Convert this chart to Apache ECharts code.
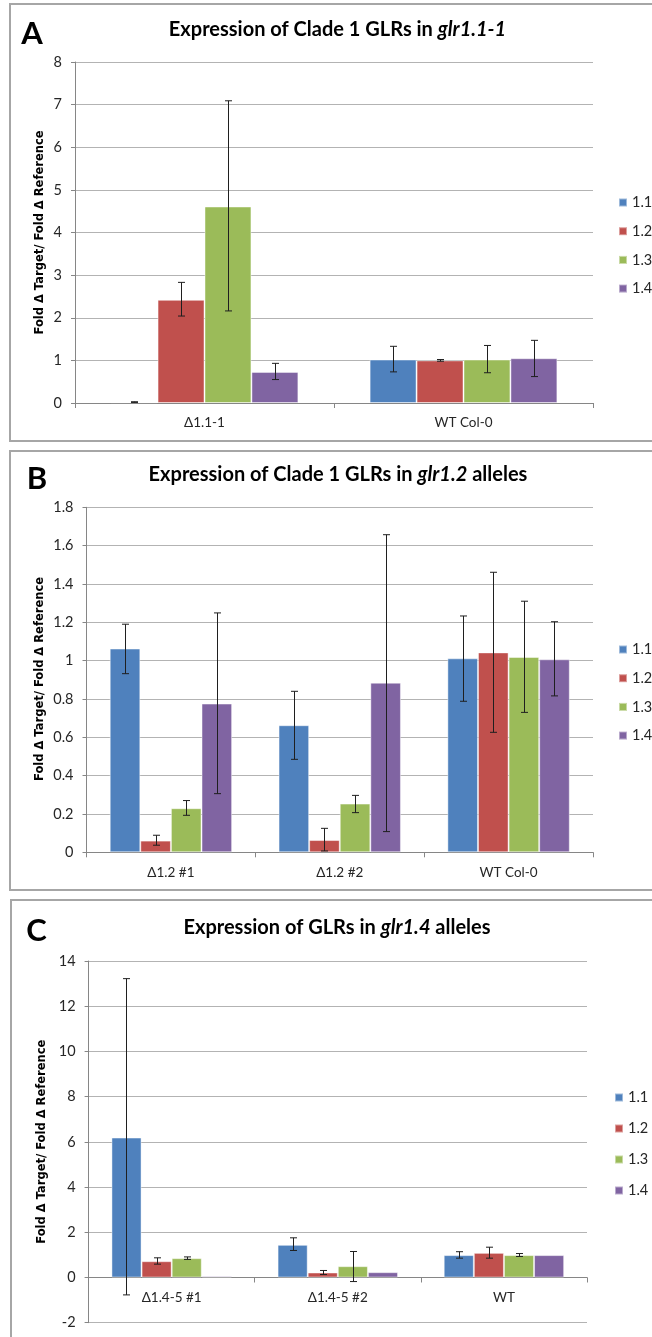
<!DOCTYPE html>
<html><head><meta charset="utf-8">
<script src="https://cdn.jsdelivr.net/npm/echarts@6/dist/echarts.min.js"></script>
<style>
html,body{margin:0;padding:0;background:#fff;width:652px;height:1337px;overflow:hidden;position:relative;}
.box{position:absolute;box-sizing:border-box;border:2px solid #a6a6a6;}
.ch{position:absolute;left:0;width:652px;}
</style></head><body>
<div class="box" style="left:9px;top:3px;width:700px;height:439px"></div>
<div class="box" style="left:9px;top:450px;width:700px;height:441px"></div>
<div class="box" style="left:10px;top:899px;width:700px;height:500px"></div>
<div id="cA" class="ch" style="top:0;height:445px"></div>
<div id="cB" class="ch" style="top:445px;height:445px"></div>
<div id="cC" class="ch" style="top:890px;height:447px"></div>
<script>
// ---------- DATA ----------
const seriesNames = ['1.1', '1.2', '1.3', '1.4'];
const seriesColors = ['#4F81BD', '#C0504D', '#9BBB59', '#8064A2'];

// Panel A
const catsA = ['Δ1.1-1', 'WT Col-0'];
const meansA = [[0.02, 1.02], [2.42, 1.00], [4.61, 1.02], [0.73, 1.05]];
const lowA   = [[0.01, 0.73], [2.04, 0.98], [2.16, 0.71], [0.55, 0.62]];
const highA  = [[0.03, 1.33], [2.83, 1.02], [7.09, 1.35], [0.93, 1.47]];
const ticksA = {min: 0, max: 8, interval: 1};

// Panel B
const catsB = ['Δ1.2 #1', 'Δ1.2 #2', 'WT Col-0'];
const meansB = [[1.063, 0.663, 1.012], [0.061, 0.064, 1.043], [0.230, 0.254, 1.019], [0.776, 0.885, 1.007]];
const lowB   = [[0.932, 0.485, 0.788], [0.037, 0.007, 0.626], [0.193, 0.207, 0.730], [0.306, 0.108, 0.816]];
const highB  = [[1.190, 0.840, 1.233], [0.089, 0.125, 1.461], [0.270, 0.297, 1.310], [1.249, 1.657, 1.203]];
const ticksB = {min: 0, max: 1.8, interval: 0.2};

// Panel C
const catsC = ['Δ1.4-5 #1', 'Δ1.4-5 #2', 'WT'];
const meansC = [[6.19, 1.445, 0.99], [0.72, 0.22, 1.09], [0.855, 0.50, 0.99], [0.06, 0.235, 0.99]];
const lowC   = [[-0.77, 1.195, 0.855], [0.59, 0.13, 0.855], [0.80, -0.18, 0.93], [null, null, null]];
const highC  = [[13.22, 1.755, 1.14], [0.87, 0.31, 1.34], [0.91, 1.15, 1.06], [null, null, null]];
const ticksC = {min: -2, max: 14, interval: 2};

const yTitle = 'Fold Δ Target/ Fold Δ Reference';

// ---------- DRAWING ----------
const GAP = 0.275;
const FONT = 'Lato, "Open Sans", sans-serif';

function errRenderer(si) {
  return function (params, api) {
    const lo = api.value(1), hi = api.value(2);
    if (lo == null || hi == null || isNaN(lo) || isNaN(hi)) return null;
    const ci = api.value(0);
    const cw = api.size([1, 0])[0];
    const group = cw * (1 - GAP);
    const bw = group / 4;
    const cx = Math.round(api.coord([ci, 0])[0] - group / 2 + bw * (si + 0.5)) + 0.5;
    const yLo = api.coord([ci, lo])[1], yHi = api.coord([ci, hi])[1];
    const cap = 3.5;
    const st = {stroke: '#1f1f1f', lineWidth: 1};
    return {type: 'group', children: [
      {type: 'line', shape: {x1: cx, y1: yLo, x2: cx, y2: yHi}, style: st},
      {type: 'line', shape: {x1: cx - cap, y1: yHi, x2: cx + cap, y2: yHi}, style: st},
      {type: 'line', shape: {x1: cx - cap, y1: yLo, x2: cx + cap, y2: yLo}, style: st}
    ]};
  };
}

function build(el, cfg) {
  const dom = document.getElementById(el);
  const chart = echarts.init(dom, null, {renderer: 'canvas'});
  const H = dom.clientHeight;
  const gridH = H - cfg.grid.top - cfg.grid.bottom;
  const zeroOffset = -gridH * (0 - cfg.ticks.min) / (cfg.ticks.max - cfg.ticks.min);
  const series = [];
  seriesNames.forEach((n, i) => {
    series.push({
      type: 'bar', name: n, data: cfg.means[i],
      barGap: '0%', barCategoryGap: (GAP * 100) + '%',
      itemStyle: {color: seriesColors[i], borderColor: 'rgba(255,255,255,0.45)', borderWidth: 1},
      emphasis: {disabled: true}, z: 2
    });
  });
  seriesNames.forEach((n, i) => {
    series.push({
      type: 'custom', name: 'err ' + n, renderItem: errRenderer(i),
      data: cfg.cats.map((c, ci) => [ci, cfg.low[i][ci], cfg.high[i][ci]]),
      encode: {x: 0, y: [1, 2]}, z: 5, silent: true
    });
  });
  chart.setOption({
    animation: false,
    grid: cfg.grid,
    title: {
      text: cfg.titleText, left: cfg.title[0], top: cfg.title[1], textAlign: 'center', padding: 0,
      textStyle: {
        rich: {b: {fontFamily: FONT, fontWeight: 'bold', fontSize: 20, color: '#000'},
               i: {fontFamily: FONT, fontWeight: 'bold', fontStyle: 'italic', fontSize: 20, color: '#000'}}
      }
    },
    legend: {
      data: seriesNames, orient: 'vertical', left: cfg.legend.left, top: cfg.legend.top, padding: 0,
      itemWidth: 8, itemHeight: 8, itemGap: cfg.legend.gap, icon: 'rect',
      textStyle: {fontFamily: FONT, fontSize: 14.5, color: '#262626', lineHeight: 14},
      selectedMode: false
    },
    xAxis: {
      type: 'category', data: cfg.cats, offset: zeroOffset,
      axisLine: {onZero: false, lineStyle: {color: '#868686', width: 1}},
      axisTick: {show: true, length: 5, lineStyle: {color: '#868686'}},
      axisLabel: {fontFamily: FONT, fontSize: 13.5, color: '#262626', margin: cfg.xMargin},
      splitLine: {show: false}
    },
    yAxis: {
      type: 'value', min: cfg.ticks.min, max: cfg.ticks.max, interval: cfg.ticks.interval,
      axisLine: {show: true, lineStyle: {color: '#868686', width: 1}},
      axisTick: {show: true, length: 4, lineStyle: {color: '#868686'}},
      axisLabel: {fontFamily: FONT, fontSize: 14.5, color: '#262626', margin: 13},
      splitLine: {show: true, lineStyle: {color: '#b3b3b3', width: 1}}
    },
    graphic: [
      {type: 'text', x: cfg.letter[0], y: cfg.letter[1],
       style: {text: cfg.letterText, font: 'bold 31px ' + FONT, fill: '#000', align: 'center', verticalAlign: 'middle'}},
      {type: 'text', x: cfg.ytitle[0], y: cfg.ytitle[1], rotation: Math.PI / 2,
       style: {text: yTitle, font: 'bold 11.5px "DejaVu Sans", Verdana, sans-serif', fill: '#000',
               align: 'center', verticalAlign: 'middle'}}
    ],
    series: series
  });
}

build('cA', {
  cats: catsA, means: meansA, low: lowA, high: highA, ticks: ticksA,
  grid: {left: 75, right: 59, top: 62, bottom: 42},
  legend: {left: 618, top: 195, gap: 13.7}, xMargin: 13,
  letterText: 'A', letter: [32, 34], title: [337.5, 20],
  titleText: '{b|Expression of Clade 1 GLRs in }{i|glr1.1-1}', ytitle: [40, 232.5]
});
build('cB', {
  cats: catsB, means: meansB, low: lowB, high: highB, ticks: ticksB,
  grid: {left: 86.5, right: 59, top: 62.3, bottom: 37.7},
  legend: {left: 618, top: 197, gap: 13.7}, xMargin: 13,
  letterText: 'B', letter: [37, 34], title: [338, 20],
  titleText: '{b|Expression of Clade 1 GLRs in }{i|glr1.2}{b| alleles}', ytitle: [40, 234]
});
build('cC', {
  cats: catsC, means: meansC, low: lowC, high: highC, ticks: ticksC,
  grid: {left: 88.6, right: 65, top: 71, bottom: 14.3},
  legend: {left: 614, top: 200, gap: 16}, xMargin: 13,
  letterText: 'C', letter: [36.5, 40.5], title: [337, 28],
  titleText: '{b|Expression of GLRs in }{i|glr1.4}{b| alleles}', ytitle: [41.6, 251.7]
});
</script>
</body></html>
